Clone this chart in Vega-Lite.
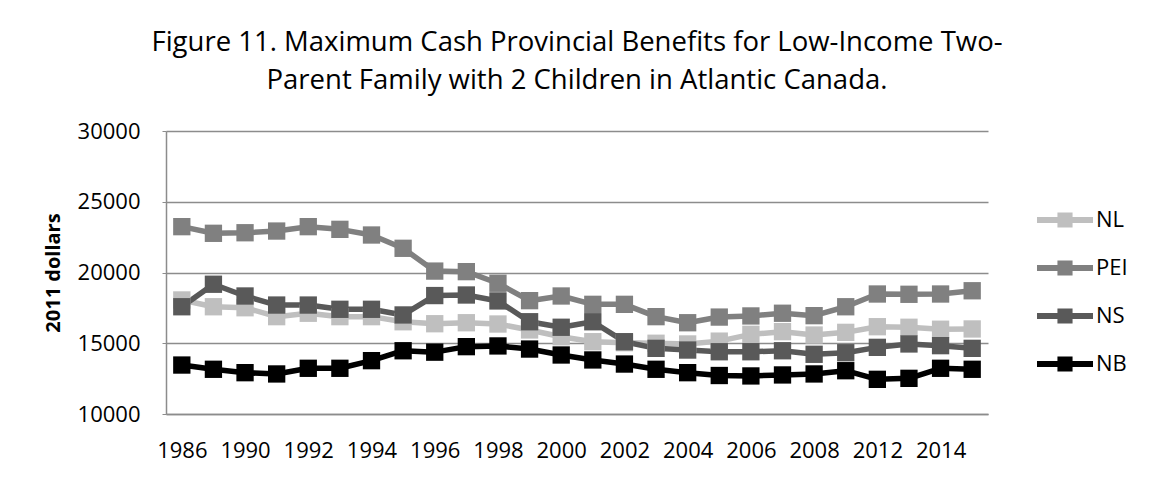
{
  "$schema": "https://vega.github.io/schema/vega-lite/v6.json",
  "autosize": "none",
  "width": 822,
  "height": 283,
  "padding": {"left": 166, "top": 131, "right": 169, "bottom": 68},
  "background": "white",
  "title": {
    "text": ["Figure 11. Maximum Cash Provincial Benefits for Low-Income Two-", "Parent Family with 2 Children in Atlantic Canada."],
    "font": "Open Sans",
    "fontSize": 27.5,
    "fontWeight": "normal",
    "color": "black",
    "lineHeight": 38,
    "anchor": "middle",
    "offset": 26
  },
  "data": {
    "values": [
      {"year": "1986", "NL": 18060, "PEI": 23240, "NS": 17580, "NB": 13460},
      {"year": "1989", "NL": 17580, "PEI": 22770, "NS": 19170, "NB": 13160},
      {"year": "1990", "NL": 17510, "PEI": 22810, "NS": 18340, "NB": 12920},
      {"year": "1991", "NL": 16880, "PEI": 22930, "NS": 17700, "NB": 12830},
      {"year": "1992", "NL": 17120, "PEI": 23240, "NS": 17700, "NB": 13230},
      {"year": "1993", "NL": 16880, "PEI": 23050, "NS": 17400, "NB": 13230},
      {"year": "1994", "NL": 16880, "PEI": 22650, "NS": 17400, "NB": 13770},
      {"year": "1995", "NL": 16520, "PEI": 21710, "NS": 17000, "NB": 14470},
      {"year": "1996", "NL": 16380, "PEI": 20100, "NS": 18370, "NB": 14370},
      {"year": "1997", "NL": 16450, "PEI": 20060, "NS": 18410, "NB": 14760},
      {"year": "1998", "NL": 16360, "PEI": 19240, "NS": 17990, "NB": 14810},
      {"year": "1999", "NL": 15940, "PEI": 18010, "NS": 16520, "NB": 14590},
      {"year": "2000", "NL": 15460, "PEI": 18340, "NS": 16130, "NB": 14170},
      {"year": "2001", "NL": 15110, "PEI": 17750, "NS": 16520, "NB": 13820},
      {"year": "2002", "NL": 15040, "PEI": 17750, "NS": 15110, "NB": 13530},
      {"year": "2003", "NL": 15000, "PEI": 16880, "NS": 14640, "NB": 13160},
      {"year": "2004", "NL": 14950, "PEI": 16450, "NS": 14520, "NB": 12920},
      {"year": "2005", "NL": 15150, "PEI": 16850, "NS": 14400, "NB": 12720},
      {"year": "2006", "NL": 15630, "PEI": 16930, "NS": 14400, "NB": 12690},
      {"year": "2007", "NL": 15820, "PEI": 17120, "NS": 14470, "NB": 12760},
      {"year": "2008", "NL": 15580, "PEI": 16950, "NS": 14220, "NB": 12830},
      {"year": "2010", "NL": 15770, "PEI": 17580, "NS": 14330, "NB": 13060},
      {"year": "2012", "NL": 16170, "PEI": 18480, "NS": 14710, "NB": 12450},
      {"year": "2013", "NL": 16130, "PEI": 18460, "NS": 14950, "NB": 12520},
      {"year": "2014", "NL": 15990, "PEI": 18480, "NS": 14830, "NB": 13230},
      {"year": "2015", "NL": 16010, "PEI": 18710, "NS": 14640, "NB": 13160}
    ]
  },
  "transform": [{"fold": ["NL", "PEI", "NS", "NB"], "as": ["prov", "value"]}],
  "encoding": {
    "x": {
      "field": "year",
      "type": "ordinal",
      "sort": null,
      "scale": {"type": "point", "padding": 0.5},
      "axis": {
        "title": null,
        "values": ["1986", "1990", "1992", "1994", "1996", "1998", "2000", "2002", "2004", "2006", "2008", "2012", "2014"],
        "labelAngle": 0,
        "ticks": false,
        "tickSize": 0,
        "labelPadding": 26,
        "grid": false,
        "domainColor": "#8c8c8c",
        "domainWidth": 1.5
      }
    },
    "y": {
      "field": "value",
      "type": "quantitative",
      "scale": {"domain": [10000, 30000], "nice": false, "zero": false},
      "axis": {
        "title": "2011 dollars",
        "values": [10000, 15000, 20000, 25000, 30000],
        "format": "d",
        "grid": true,
        "gridColor": "#8c8c8c",
        "gridWidth": 1.5,
        "domainColor": "#8c8c8c",
        "domainWidth": 1.5,
        "tickColor": "#8c8c8c",
        "tickSize": 4,
        "labelPadding": 22,
        "titleFontWeight": "bold",
        "titleFontSize": 20,
        "titleFont": "Open Sans",
        "titleColor": "black",
        "titlePadding": 14
      }
    },
    "color": {
      "field": "prov",
      "type": "nominal",
      "scale": {"domain": ["NL", "PEI", "NS", "NB"], "range": ["#bfbfbf", "#808080", "#595959", "#000000"]},
      "legend": {
        "title": null,
        "orient": "none",
        "legendX": 871,
        "legendY": 61,
        "symbolType": "M-1,-0.107H1V0.107H-1Z M-0.27,-0.27H0.27V0.27H-0.27Z",
        "symbolSize": 3136,
        "symbolStrokeWidth": 0,
        "labelFont": "Open Sans",
        "labelFontSize": 22,
        "labelColor": "black",
        "labelOffset": 3,
        "rowPadding": 9,
        "encode": {
          "symbols": {
            "update": {
              "size": {"value": 3136},
              "strokeWidth": {"value": 0},
              "fill": {"scale": "color", "field": "value"},
              "opacity": {"value": 1}
            }
          }
        }
      }
    }
  },
  "layer": [
    {"mark": {"type": "line", "strokeWidth": 5.5, "strokeJoin": "round"}},
    {"mark": {"type": "point", "shape": "square", "filled": true, "opacity": 1, "size": 300}}
  ],
  "config": {
    "view": {"stroke": null},
    "axis": {"labelFont": "Open Sans", "labelFontSize": 22, "labelColor": "black"}
  }
}
